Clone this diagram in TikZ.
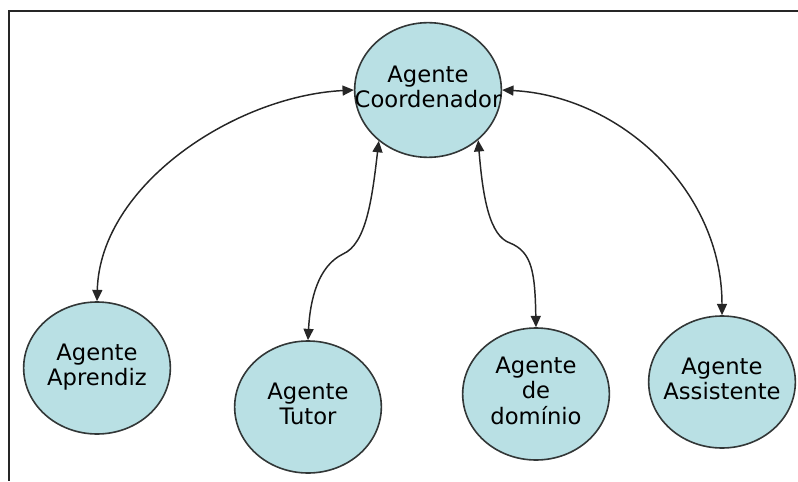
\documentclass[tikz,border=0pt]{standalone}
\usepackage{fontspec}
\setmainfont{DejaVu Sans}
\usetikzlibrary{shapes.geometric,arrows.meta}
\definecolor{agentfill}{RGB}{185,224,228}
\definecolor{agentline}{RGB}{50,55,55}
% centred label that does not widen the ellipse around it
\newcommand\agentlabel[1]{\makebox[0pt]{\begin{tabular}{@{}c@{}}#1\end{tabular}}}
\tikzset{
  agent/.style={ellipse, draw=agentline, line width=1.2pt, fill=agentfill,
    inner sep=0pt, minimum width=110pt, minimum height=99pt,
    font=\fontsize{17pt}{18.75pt}\selectfont},
  link/.style={line width=1.1pt, draw=black!85,
    {Triangle[length=8.5pt,width=7.5pt]}-{Triangle[length=8.5pt,width=7.5pt]}},
  frame/.style={line width=1.6pt, draw=black!85}
}
\begin{document}
\begin{tikzpicture}[x=0.75pt,y=-0.75pt]
  \useasboundingbox (0,0) rectangle (798,481);
  % open frame: top and left edges
  \draw[frame] (798,11) -- (9,11) -- (9,481);

  % agents
  \node[agent, minimum height=101pt] (coord) at (428,90) {\agentlabel{Agente\\Coordenador}};
  \node[agent] (apr)    at (97,368)  {\agentlabel{Agente\\Aprendiz}};
  \node[agent] (tutor)  at (308,407) {\agentlabel{Agente\\Tutor}};
  \node[agent] (dom)    at (536,394) {\agentlabel{Agente\\de\\domínio}};
  \node[agent] (assist) at (722,382) {\agentlabel{Agente\\Assistente}};

  % links between the coordinator and each agent
  \draw[link] (coord.west) .. controls (235,96) and (100,185) .. (apr.north);
  \draw[link] (coord.east) .. controls (620,96) and (722,190) .. (assist.north);
  \draw[link] (coord.226) .. controls (372,200) and (366,244) .. (343,254)
              .. controls (318,266) and (310,300) .. (tutor.north);
  \draw[link] (coord.315) .. controls (483,200) and (490,236) .. (510,243)
              .. controls (532,252) and (535,272) .. (dom.north);
\end{tikzpicture}
\end{document}
